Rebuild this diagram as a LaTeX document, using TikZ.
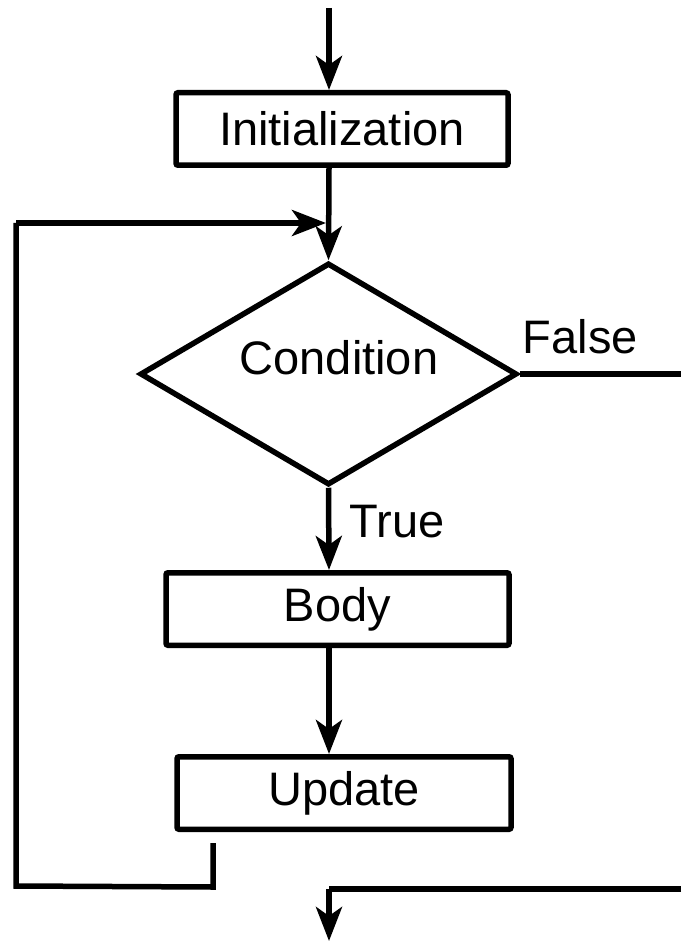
\documentclass[tikz,border=0pt]{standalone}
\usepackage{fontspec}
\setmainfont{Liberation Sans}
\usetikzlibrary{shapes.geometric,arrows.meta}
\begin{document}
\begin{tikzpicture}[x=1pt,y=-1pt,
  line width=5.5pt,
  box/.style={draw, rectangle, rounded corners=2pt, inner sep=0pt, line width=5.5pt},
  txt/.style={font=\fontsize{47}{56}\selectfont, inner sep=0pt},
  arr/.style={-{Stealth[length=34pt,width=26pt,inset=9pt]}},
]
\useasboundingbox[fill=white] (0,0) rectangle (681,941);
% nodes
\coordinate (start) at (329,8);
\node[box, minimum width=332pt, minimum height=72.5pt] (init) at (342,129) {};
\node[txt] at (init.center) {Initialization};
\node[draw, diamond, aspect=1.7, minimum width=377pt, minimum height=222pt, inner sep=0pt, line width=5.5pt] (cond) at (328.5,374) {};
\node[txt] (condtxt) at (339,358) {Condition};
\node[box, minimum width=343pt, minimum height=72.5pt] (body) at (337.5,609) {};
\node[txt] at (body.center) {Body};
\node[box, minimum width=334pt, minimum height=72.5pt] (upd) at (344,793) {};
\node[txt] at (upd.center) {Update};
\node[txt, anchor=west] (false) at (520,337) {False};
\node[txt, anchor=west] (true) at (347,522) {True};
% coordinates
\coordinate (fr) at (681,374);
\coordinate (join) at (329,223);
\coordinate (tick) at (213,843);
\coordinate (bl) at (213,887);
\coordinate (l1) at (16,886);
\coordinate (l2) at (16,223);
\coordinate (br) at (681,889);
\coordinate (bm) at (329,889);
\coordinate (end) at (329,941);
% connectors
\draw[arr] (start) -- (init.north -| start);
\draw[arr] (init.south -| start) -- (cond.north);
\draw (cond.east) -- (fr);
\draw[arr] (cond.south) -- (body.north -| start);
\draw[arr] (body.south -| start) -- (upd.north -| start);
\draw (tick) -- (bl) -- (l1) -- (l2);
\draw[arr] (l2) -- ([xshift=-3pt]join);
\draw (br) -- (bm);
\draw[arr] (bm) -- (end);
\end{tikzpicture}
\end{document}
